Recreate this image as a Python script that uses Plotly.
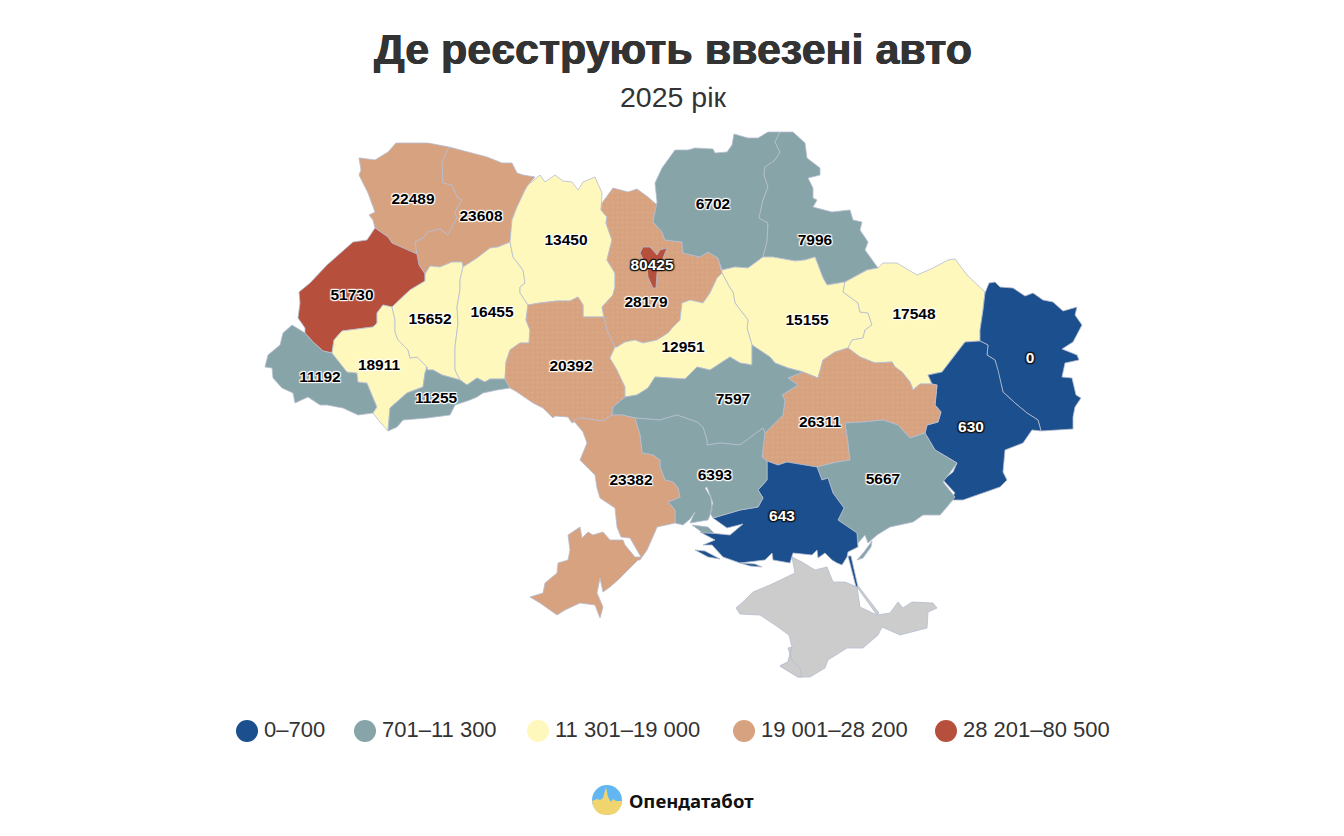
import bisect
import plotly.graph_objects as go

# --- data ---
REGIONS = ['Волинська', 'Рівненська', 'Львівська', 'Закарпатська', 'Івано-Франківська',
           'Тернопільська', 'Хмельницька', 'Чернівецька', 'Житомирська', 'Вінницька',
           'Київська', 'м. Київ', 'Чернігівська', 'Сумська', 'Полтавська', 'Черкаська',
           'Харківська', 'Луганська', 'Донецька', 'Дніпропетровська', 'Кіровоградська',
           'Запорізька', 'Херсонська', 'Миколаївська', 'Одеська']
VALUES = [22489, 23608, 51730, 11192, 18911,
          15652, 16455, 11255, 13450, 20392,
          28179, 80425, 6702, 7996, 15155, 12951,
          17548, 0, 630, 26311, 7597,
          5667, 643, 6393, 23382]

BIN_TOPS = [700, 11300, 19000, 28200, 80500]
BIN_LABELS = ['0–700', '701–11 300', '11 301–19 000', '19 001–28 200', '28 201–80 500']
BIN_COLORS = ['#1c4f8e', '#87a4a8', '#fff8bd', '#d7a27f', '#b6503c']

TITLE = 'Де реєструють ввезені авто'
SUBTITLE = '2025 рік'
BRAND = 'Опендатабот'

# --- map geometry, in page units of the picture ---
OUTLINES = {
    'Волинська': [[(360,158),(375,160),(388,152),(396,143),(428,143),(449,147),(442,162),(443,183),(452,185),(457,197),(462,200),(455,212),(457,218),(452,227),(448,235),(440,229),(428,232),(423,238),(415,242),(417,254),(407,250),(392,243),(388,237),(375,228),(373,220),(369,215),(375,212),(368,193),(359,175),(361,170),(359,158)]],
    'Рівненська': [[(449,147),(473,153),(487,157),(502,163),(512,163),(517,173),(523,175),(535,177),(528,185),(525,190),(517,207),(512,220),(510,242),(498,247),(490,248),(477,258),(463,267),(462,262),(452,262),(440,267),(430,266),(425,274),(419,265),(417,254),(415,242),(423,238),(428,232),(440,229),(448,235),(452,227),(457,218),(455,212),(462,200),(457,197),(452,185),(443,183),(442,162)]],
    'Львівська': [[(375,228),(388,237),(392,243),(407,250),(417,254),(419,265),(425,274),(425,281),(410,290),(392,307),(383,305),(377,313),(377,323),(373,327),(342,331),(334,340),(332,353),(323,351),(313,342),(305,333),(305,328),(298,318),(300,303),(299,292),(310,283),(327,265),(353,242),(367,240)]],
    'Закарпатська': [[(292,325),(305,333),(313,342),(323,351),(332,353),(347,372),(357,373),(358,382),(367,383),(373,397),(377,407),(373,413),(358,415),(343,408),(327,405),(320,405),(308,397),(295,403),(293,393),(282,388),(273,378),(272,368),(265,367),(268,355),(280,345),(283,333)]],
    'Івано-Франківська': [[(332,353),(334,340),(342,331),(373,327),(377,323),(377,313),(383,305),(392,307),(395,320),(395,332),(398,340),(408,350),(410,358),(417,357),(427,367),(425,373),(423,387),(407,393),(390,408),(388,431),(380,422),(373,413),(377,407),(373,397),(367,383),(358,382),(357,373),(347,372)]],
    'Тернопільська': [[(425,274),(430,266),(440,267),(452,262),(462,262),(463,267),(460,280),(460,290),(457,307),(458,323),(455,347),(455,370),(460,380),(442,375),(433,370),(427,370),(427,367),(417,357),(410,358),(408,350),(398,340),(395,332),(395,320),(392,307),(410,290),(425,281)]],
    'Хмельницька': [[(463,267),(477,258),(490,248),(498,247),(510,242),(513,257),(523,270),(525,283),(520,287),(520,293),(528,305),(526,320),(530,330),(529,343),(520,343),(510,350),(506,362),(505,379),(490,379),(485,382),(477,378),(467,385),(460,380),(455,370),(455,347),(458,323),(457,307),(460,290),(460,280)]],
    'Чернівецька': [[(427,367),(427,370),(433,370),(442,375),(460,380),(467,385),(477,378),(485,382),(490,379),(505,379),(510,388),(497,390),(483,393),(477,397),(470,400),(455,405),(450,415),(427,418),(403,420),(397,427),(388,431),(390,408),(407,393),(423,387),(425,373)]],
    'Житомирська': [[(528,185),(540,175),(545,182),(555,175),(563,181),(572,182),(578,190),(583,182),(595,177),(602,193),(601,210),(607,217),(606,223),(612,240),(607,260),(615,273),(615,287),(613,295),(602,307),(604,317),(595,317),(583,317),(583,305),(578,297),(570,301),(557,301),(540,303),(528,305),(520,293),(520,287),(525,283),(523,270),(513,257),(510,242),(512,220),(517,207),(525,190)]],
    'Вінницька': [[(528,305),(540,303),(557,301),(570,301),(578,297),(583,305),(583,317),(595,317),(604,317),(607,330),(615,347),(610,358),(617,370),(625,387),(625,397),(613,407),(612,415),(603,421),(582,418),(572,423),(568,417),(555,416),(553,418),(543,408),(533,403),(517,392),(510,388),(505,379),(506,362),(510,350),(520,343),(529,343),(530,330),(526,320)]],
    'Київська': [[(602,203),(613,188),(628,192),(637,189),(648,197),(657,205),(653,222),(662,232),(665,240),(682,242),(683,253),(700,257),(708,252),(718,258),(722,273),(717,278),(710,293),(703,303),(690,300),(682,303),(680,320),(673,327),(668,333),(657,340),(643,343),(635,340),(625,342),(617,347),(615,347),(607,330),(604,317),(602,307),(613,295),(615,287),(615,273),(607,260),(612,240),(606,223),(607,217),(601,210)]],
    'м. Київ': [[(643,247),(640,253),(647,267),(648,277),(653,288),(656,288),(657,273),(662,260),(667,248),(660,250),(657,255),(650,247)]],
    'Чернігівська': [[(675,150),(688,150),(695,148),(713,149),(715,153),(727,152),(732,145),(734,134),(748,138),(758,138),(768,132),(780,132),(775,142),(780,152),(775,160),(765,167),(764,175),(768,187),(763,200),(759,218),(768,223),(767,242),(763,257),(748,268),(735,267),(722,270),(718,258),(708,252),(700,257),(683,253),(682,242),(665,240),(662,232),(653,222),(657,202),(655,183),(662,168)]],
    'Сумська': [[(780,132),(793,132),(805,143),(807,158),(820,168),(820,175),(808,178),(813,188),(813,198),(817,200),(813,207),(832,212),(850,210),(853,220),(862,222),(860,230),(868,242),(865,250),(878,268),(867,270),(845,282),(827,285),(823,278),(815,257),(805,260),(795,261),(773,257),(763,257),(767,242),(768,223),(759,218),(763,200),(768,187),(764,175),(765,167),(775,160),(780,152),(775,142)]],
    'Полтавська': [[(722,273),(722,270),(735,267),(748,268),(763,257),(773,257),(795,261),(805,260),(815,257),(823,278),(827,285),(845,282),(843,292),(858,303),(860,312),(868,313),(872,325),(865,330),(863,338),(852,340),(848,348),(835,352),(823,360),(818,378),(803,372),(788,368),(775,363),(770,357),(752,345),(747,328),(748,320),(735,303),(733,292),(730,288)]],
    'Черкаська': [[(617,347),(625,342),(635,340),(643,343),(657,340),(668,333),(673,327),(680,320),(682,303),(690,300),(703,303),(710,293),(717,278),(722,273),(730,288),(733,292),(735,303),(748,320),(747,328),(752,345),(752,365),(740,363),(730,357),(710,370),(697,367),(685,379),(655,377),(648,388),(637,395),(625,397),(625,387),(617,370),(610,358),(615,347)]],
    'Харківська': [[(845,282),(867,270),(878,268),(883,263),(897,263),(917,275),(933,268),(948,260),(955,259),(967,275),(985,292),(983,310),(980,330),(980,341),(965,342),(957,352),(942,372),(928,375),(932,384),(920,384),(913,390),(910,382),(902,372),(895,367),(892,362),(875,363),(860,357),(848,348),(852,340),(863,338),(865,330),(872,325),(868,313),(860,312),(858,303),(843,292)]],
    'Луганська': [[(989,283),(995,282),(1000,287),(1013,288),(1025,296),(1033,293),(1043,300),(1053,302),(1063,311),(1077,307),(1075,315),(1082,325),(1073,342),(1062,349),(1077,355),(1079,360),(1065,363),(1062,377),(1072,378),(1076,395),(1081,398),(1075,407),(1073,417),(1073,429),(1041,431),(1038,420),(1027,413),(1015,403),(1003,392),(998,370),(995,360),(987,355),(988,345),(980,341),(980,330),(983,310),(985,293)]],
    'Донецька': [[(980,341),(988,345),(987,355),(995,360),(998,370),(1003,392),(1015,403),(1027,413),(1038,420),(1041,431),(1032,430),(1023,443),(1005,450),(1003,472),(1007,480),(1000,487),(963,500),(950,500),(955,493),(943,480),(953,472),(957,463),(947,457),(935,450),(925,433),(927,425),(938,422),(941,412),(935,405),(937,385),(932,384),(928,375),(942,372),(957,352),(965,342)]],
    'Дніпропетровська': [[(818,378),(823,360),(835,352),(848,348),(860,357),(875,363),(892,362),(895,367),(902,372),(910,382),(913,390),(920,384),(932,384),(937,385),(935,405),(941,412),(938,422),(927,425),(925,433),(910,438),(898,425),(883,420),(863,422),(845,423),(848,442),(850,460),(837,462),(817,467),(803,465),(787,462),(778,465),(767,461),(762,457),(765,433),(773,425),(783,415),(785,400),(782,395),(798,385),(788,378),(803,372)]],
    'Кіровоградська': [[(613,407),(625,397),(637,395),(648,388),(655,377),(685,379),(697,367),(710,370),(730,357),(740,363),(752,365),(752,345),(770,357),(775,363),(788,368),(803,372),(788,378),(798,385),(782,395),(785,400),(783,415),(773,425),(765,433),(763,428),(740,445),(720,443),(707,445),(707,440),(703,427),(697,422),(677,415),(660,420),(635,418),(622,415),(612,415)]],
    'Запорізька': [[(845,423),(863,422),(883,420),(898,425),(910,438),(925,433),(935,450),(947,457),(957,463),(943,482),(955,497),(947,507),(940,515),(923,515),(913,522),(890,527),(877,535),(868,543),(865,535),(858,543),(857,533),(838,520),(844,508),(833,493),(828,478),(822,480),(817,467),(837,462),(850,460),(848,442)],
                   [(857,560),(864,552),(872,541),(871,547),(863,558)]],
    'Херсонська': [[(767,461),(778,465),(787,462),(803,465),(817,467),(822,480),(828,478),(833,493),(844,508),(838,520),(857,533),(858,547),(848,552),(847,557),(842,565),(837,563),(832,560),(825,553),(818,558),(817,550),(812,555),(793,553),(790,563),(773,560),(772,553),(765,560),(740,563),(723,557),(712,545),(703,545),(715,540),(700,532),(730,535),(743,524),(727,528),(713,518),(740,510),(758,507),(763,498),(758,490),(767,480)],
                   [(695,550),(705,551),(720,559),(708,557)],
                   [(740,563),(755,564),(762,567),(750,566)],
                   [(848,556),(851,556),(858,587),(856,587)]],
    'Миколаївська': [[(635,418),(660,420),(677,415),(697,422),(703,427),(707,440),(707,445),(720,443),(740,445),(763,428),(765,433),(762,457),(767,461),(767,480),(758,490),(763,498),(758,507),(740,510),(713,518),(710,513),(713,503),(707,487),(705,488),(711,498),(712,510),(708,520),(690,523),(695,512),(690,519),(683,525),(675,523),(675,510),(668,502),(680,497),(678,488),(673,482),(665,480),(660,467),(660,460),(653,455),(642,453),(640,435)],
                     [(692,525),(708,527),(714,533),(703,533)]],
    'Одеська': [[(612,415),(622,415),(635,418),(640,435),(642,453),(653,455),(660,460),(660,467),(665,480),(673,482),(678,488),(680,497),(668,502),(675,510),(675,523),(657,527),(655,532),(647,550),(640,560),(638,560),(618,580),(610,587),(603,592),(600,578),(597,593),(603,607),(600,618),(595,605),(580,603),(565,610),(557,615),(540,603),(530,597),(543,593),(545,583),(557,573),(558,563),(568,560),(570,550),(568,535),(580,527),(582,538),(588,532),(593,535),(603,532),(610,540),(623,540),(625,545),(635,557),(641,557),(630,538),(621,537),(617,527),(615,508),(600,498),(597,488),(595,475),(580,460),(587,443),(583,432),(573,420),(582,418),(603,421)]],
}
CRIMEA = {
    'АР Крим': [[(792,557),(802,562),(815,570),(827,567),(833,582),(845,582),(857,587),(860,607),(877,615),(890,613),(898,602),(903,608),(912,602),(933,603),(937,608),(928,612),(927,628),(912,632),(900,635),(882,627),(878,635),(863,648),(847,648),(828,660),(825,668),(810,677),(798,677),(780,666),(788,662),(792,647),(789,635),(775,625),(760,615),(740,614),(736,608),(745,600),(753,592),(770,585),(795,573)],
                [(857,587),(859,587),(879,613),(877,615)]],
    'м. Севастополь': [[(788,648),(792,660),(800,668),(802,677),(798,677),(780,666),(788,662),(792,647)]],
}
LABEL_POS = {
    'Волинська': (413,200), 'Рівненська': (481,217), 'Львівська': (352,296), 'Закарпатська': (320,378),
    'Івано-Франківська': (379,366), 'Тернопільська': (430,320), 'Хмельницька': (492,313),
    'Чернівецька': (436,399), 'Житомирська': (566,241), 'Вінницька': (571,367), 'Київська': (646,303),
    'м. Київ': (652,266), 'Чернігівська': (713,205), 'Сумська': (815,241), 'Полтавська': (807,321),
    'Черкаська': (683,348), 'Харківська': (914,315), 'Луганська': (1030,359), 'Донецька': (971,428),
    'Дніпропетровська': (820,423), 'Кіровоградська': (733,400), 'Запорізька': (883,480),
    'Херсонська': (782,517), 'Миколаївська': (715,476), 'Одеська': (631,481),
}
DOTTED = ['Вінницька', 'Київська', 'Дніпропетровська']
LEGEND_X = [247, 365, 538, 744, 946]
LEGEND_Y = 731
LEGEND_TEXT_GAP = 17

LOGO_CENTER = (607, 800)
LOGO_LOWER = [(592,801),(593,806),(596,811),(600,814),(607,815),(614,814),(618,811),(621,806),(622,801),
              (616,801),(613,799),(611,802),(608,797),(606,787),(603,798),(600,800),(597,799)]

W, H = 1344, 836
BORDER = '#b5bdd0'
LABEL_FONT = 'Liberation Sans'
DARK_HALO = '-1px -1px 1px #111, 1px -1px 1px #111, -1px 1px 1px #111, 1px 1px 1px #111, 0 0 2px #111'
LIGHT_HALO = '-1px -1px 1px #fff, 1px -1px 1px #fff, -1px 1px 1px #fff, 1px 1px 1px #fff, 0 0 2px #fff'


def bin_color(v):
    return BIN_COLORS[bisect.bisect_left(BIN_TOPS, v)]


def path_xy(polys):
    xs, ys = [], []
    for p in polys:
        xs += [pt[0] for pt in p] + [p[0][0], None]
        ys += [pt[1] for pt in p] + [p[0][1], None]
    return xs, ys


fig = go.Figure()

for name, value in zip(REGIONS, VALUES):
    xs, ys = path_xy(OUTLINES[name])
    color = bin_color(value)
    pattern = None
    if name in DOTTED:
        pattern = dict(shape='.', size=5, solidity=0.2, bgcolor=color, fgcolor='#ddae8c')
    fig.add_trace(go.Scatter(x=xs, y=ys, name=name, mode='lines', fill='toself', fillcolor=color,
                             fillpattern=pattern, line=dict(color=BORDER, width=0.8),
                             hoveron='fills', hoverinfo='text', text=f'{name}: {value}'))

for name, polys in CRIMEA.items():
    xs, ys = path_xy(polys)
    fig.add_trace(go.Scatter(x=xs, y=ys, name=name, mode='lines', fill='toself', fillcolor='#cccccc',
                             line=dict(color=BORDER, width=0.8), hoverinfo='skip'))

# value labels: white digits with dark halo on the blue regions and Kyiv city
dark = [n for n, v in zip(REGIONS, VALUES) if v <= BIN_TOPS[0] or v > 60000]
for names, color, halo in [([n for n in REGIONS if n not in dark], '#000000', LIGHT_HALO),
                           (dark, '#ffffff', DARK_HALO)]:
    fig.add_trace(go.Scatter(x=[LABEL_POS[n][0] for n in names],
                             y=[LABEL_POS[n][1] for n in names],
                             text=[str(VALUES[REGIONS.index(n)]) for n in names],
                             mode='text', hoverinfo='skip', textposition='middle center',
                             textfont=dict(family=LABEL_FONT, size=15.5, color=color,
                                           weight='bold', shadow=halo)))

# legend row
fig.add_trace(go.Scatter(x=LEGEND_X, y=[LEGEND_Y] * len(LEGEND_X), mode='markers', hoverinfo='skip',
                         marker=dict(size=22, color=BIN_COLORS, line=dict(width=0))))
fig.add_trace(go.Scatter(x=[x + LEGEND_TEXT_GAP for x in LEGEND_X], y=[LEGEND_Y] * len(LEGEND_X),
                         text=BIN_LABELS, mode='text', textposition='middle right', hoverinfo='skip',
                         textfont=dict(family=LABEL_FONT, size=22, color='#333333')))

# logo
fig.add_trace(go.Scatter(x=[LOGO_CENTER[0]], y=[LOGO_CENTER[1]], mode='markers', hoverinfo='skip',
                         marker=dict(size=30, color='#62b6f2', line=dict(width=0))))
fig.add_trace(go.Scatter(x=[p[0] for p in LOGO_LOWER + LOGO_LOWER[:1]],
                         y=[p[1] for p in LOGO_LOWER + LOGO_LOWER[:1]],
                         mode='lines', fill='toself', fillcolor='#f0d56e', hoverinfo='skip',
                         line=dict(width=0, color='#f0d56e')))

fig.update_layout(
    width=W, height=H, margin=dict(l=0, r=0, t=0, b=0),
    paper_bgcolor='white', plot_bgcolor='white', showlegend=False,
    title=dict(text=TITLE, x=673 / W, xanchor='center', y=1 - 49 / H, yanchor='middle',
               font=dict(family=LABEL_FONT, size=43, color='#333333', weight='bold',
                         shadow='0.5px 0 0 #333, -0.5px 0 0 #333')),
    xaxis=dict(range=[0, W], visible=False, fixedrange=True),
    yaxis=dict(range=[H, 0], visible=False, fixedrange=True),
    annotations=[
        dict(text=SUBTITLE, xref='paper', yref='paper', x=673 / W, y=1 - 97 / H, xanchor='center', yanchor='middle',
             showarrow=False, font=dict(family=LABEL_FONT, size=28.5, color='#333333')),
        dict(text=BRAND, xref='paper', yref='paper', x=627 / W, y=1 - 800 / H, xanchor='left', yanchor='middle',
             showarrow=False, font=dict(family='Noto Sans', size=18.5, color='#111111', weight='bold')),
    ],
)

fig.write_html("out.html", config=dict(displayModeBar=False),
               post_script="document.body.style.margin='0'")
